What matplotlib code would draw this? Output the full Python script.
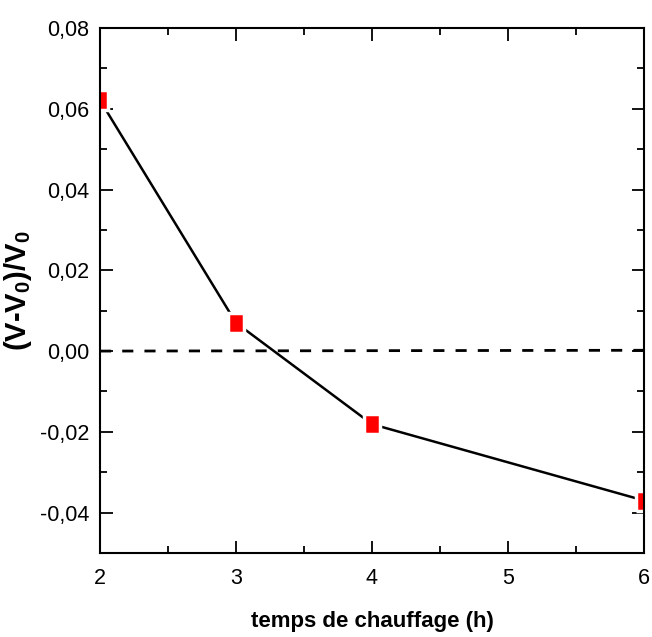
import matplotlib
matplotlib.use("Agg")
import matplotlib.pyplot as plt
from matplotlib import font_manager
from matplotlib.ticker import MultipleLocator, FixedLocator
import numpy as np

heating_time = [2, 3, 4, 6]
rel_change = [0.0621, 0.0070, -0.0181, -0.0370]
zero_x = [2, 6]
zero_y = [0.0, 0.0002]
xticks = [2, 3, 4, 5, 6]
xtick_labels = ["2", "3", "4", "5", "6"]
yticks = [-0.04, -0.02, 0.00, 0.02, 0.04, 0.06, 0.08]
ytick_labels = ["-0,04", "-0,02", "0,00", "0,02", "0,04", "0,06", "0,08"]

names = {f.name for f in font_manager.fontManager.ttflist}
fam = "Liberation Sans Narrow" if "Liberation Sans Narrow" in names else "Liberation Sans"
plt.rcParams["font.family"] = [fam, "DejaVu Sans"]
plt.rcParams["mathtext.fontset"] = "custom"
plt.rcParams["mathtext.rm"] = fam + ":bold"
plt.rcParams["mathtext.it"] = fam + ":bold"
plt.rcParams["mathtext.bf"] = fam + ":bold"
plt.rcParams["mathtext.default"] = "bf"

fig = plt.figure(figsize=(6.52, 6.37), dpi=100)
ax = fig.add_axes([100/652, 1-553/637, 544/652, 525/637])

ax.plot(zero_x, zero_y, color="black", lw=2, ls=(0, (4, 4)), zorder=2)
ax.plot(heating_time, rel_change, color="black", lw=1.8, zorder=2)
rect = [(-0.38, -0.5), (0.38, -0.5), (0.38, 0.5), (-0.38, 0.5), (-0.38, -0.5)]
ax.plot(heating_time, rel_change, ls="none", marker=rect, ms=15,
        mfc="#ff0000", mec="white", mew=2.5, zorder=3)

ax.set_xlim(2, 6)
ax.set_ylim(-0.05, 0.08)
ax.xaxis.set_major_locator(FixedLocator(xticks))
ax.set_xticklabels(xtick_labels)
ax.xaxis.set_minor_locator(MultipleLocator(0.5))
ax.yaxis.set_major_locator(FixedLocator(yticks))
ax.set_yticklabels(ytick_labels)
ax.yaxis.set_minor_locator(MultipleLocator(0.01))

ax.tick_params(which="both", direction="in", top=True, right=True, width=1.3)
ax.tick_params(which="major", length=9, labelsize=15.5)
ax.tick_params(axis="y", which="major", pad=8)
ax.tick_params(axis="x", which="major", pad=11)
ax.tick_params(which="minor", length=5)
for s in ax.spines.values():
    s.set_linewidth(1.5)
    s.set_zorder(4)

ax.set_xlabel("temps de chauffage (h)", fontsize=16, fontweight="bold", labelpad=16)
ax.set_ylabel("(V-V$_0$)/V$_0$", fontsize=21, fontweight="bold", labelpad=4)

fig.savefig("out.png", dpi=100)
